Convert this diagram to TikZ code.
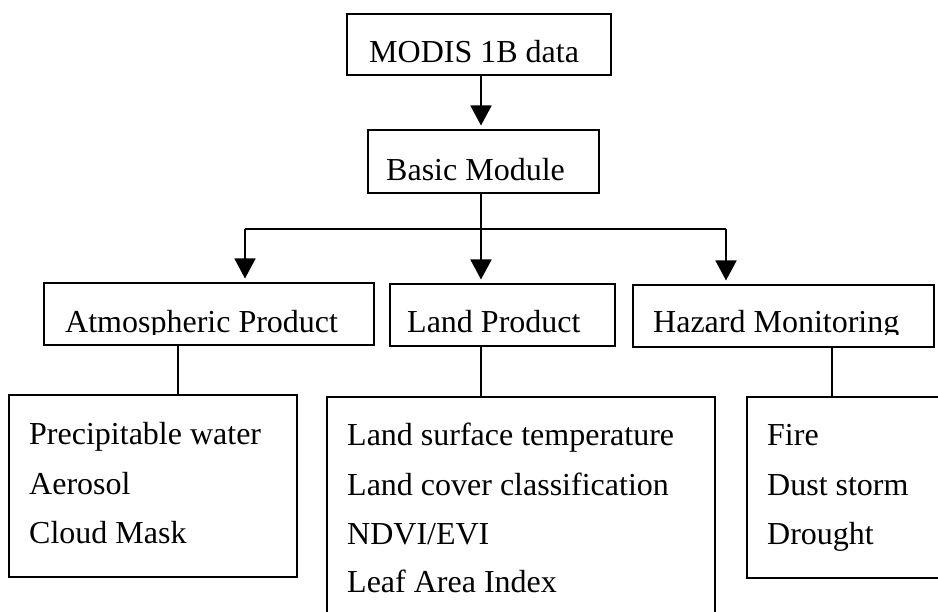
\documentclass[tikz,border=0pt]{standalone}
\usepackage{fontspec}
\setmainfont{Liberation Serif}
\usetikzlibrary{arrows.meta}
\tikzset{
  boxn/.style={draw, line width=1.7pt, inner sep=0pt, anchor=north west},
  lbl/.style={anchor=base west, inner sep=0pt, font=\fontsize{32}{38}\selectfont},
  link/.style={line width=1.7pt},
  arr/.style={link, -{Triangle[width=21pt,length=20pt]}, shorten >=3.5pt}
}
\begin{document}
\begin{tikzpicture}[x=1pt, y=-1pt]
\useasboundingbox (0,0) rectangle (938,612);
\clip (0,0) rectangle (938,612);
\fill[white] (0,0) rectangle (938,612);
% x positions of connectors
\coordinate (xa) at (178,0);
\coordinate (xb) at (245,0);
\coordinate (xl) at (481,0);
\coordinate (xr) at (726,0);
\coordinate (xh) at (832,0);
\coordinate (busy) at (0,229);
% boxes
\node[boxn, minimum width=264pt, minimum height=61pt] (modis) at (346,13) {};
\node[boxn, minimum width=231pt, minimum height=63pt] (basic) at (367,129) {};
\node[boxn, minimum width=330pt, minimum height=62pt] (atm) at (43,282) {};
\node[boxn, minimum width=225pt, minimum height=62pt] (land) at (389,283) {};
\node[boxn, minimum width=301pt, minimum height=62pt] (haz) at (632,284) {};
\node[boxn, minimum width=288pt, minimum height=182pt] (atmlist) at (8,394) {};
\node[boxn, minimum width=388pt, minimum height=240pt] (landlist) at (326,396) {};
\node[boxn, minimum width=220pt, minimum height=181pt] (hazlist) at (746,396) {};
% texts
\node[lbl] (modist) at (369,63) {MODIS 1B data};
\node[lbl] (basict) at (386,181) {Basic Module};
\begin{scope}
  \clip (43,282) rectangle (938,335);
  \node[lbl] (atmt) at (65,333) {Atmospheric Product};
  \node[lbl] (landt) at (407,333) {Land Product};
  \node[lbl] (hazt) at (653,333) {Hazard Monitoring};
\end{scope}
\node[lbl] (a1) at (29,445) {Precipitable water};
\node[lbl] (a2) at (29,494) {Aerosol};
\node[lbl] (a3) at (29,543) {Cloud Mask};
\node[lbl] (l1) at (347,446) {Land surface temperature};
\node[lbl] (l2) at (347,495) {Land cover classification};
\node[lbl] (l3) at (347,544) {NDVI/EVI};
\node[lbl] (l4) at (347,592) {Leaf Area Index};
\node[lbl] (h1) at (767,446) {Fire};
\node[lbl] (h2) at (767,495) {Dust storm};
\node[lbl] (h3) at (767,544) {Drought};
% connectors
\draw[arr] (modis.south -| xl) -- (basic.north -| xl);
\draw[link] (basic.south -| xl) -- (xl |- busy);
\draw[link] (xb |- busy) -- (xr |- busy);
\draw[arr] (xb |- busy) -- (atm.north -| xb);
\draw[arr] (xl |- busy) -- (land.north -| xl);
\draw[arr] (xr |- busy) -- (haz.north -| xr);
\draw[link] (atm.south -| xa) -- (atmlist.north -| xa);
\draw[link] (land.south -| xl) -- (landlist.north -| xl);
\draw[link] (haz.south -| xh) -- (hazlist.north -| xh);
\end{tikzpicture}
\end{document}
